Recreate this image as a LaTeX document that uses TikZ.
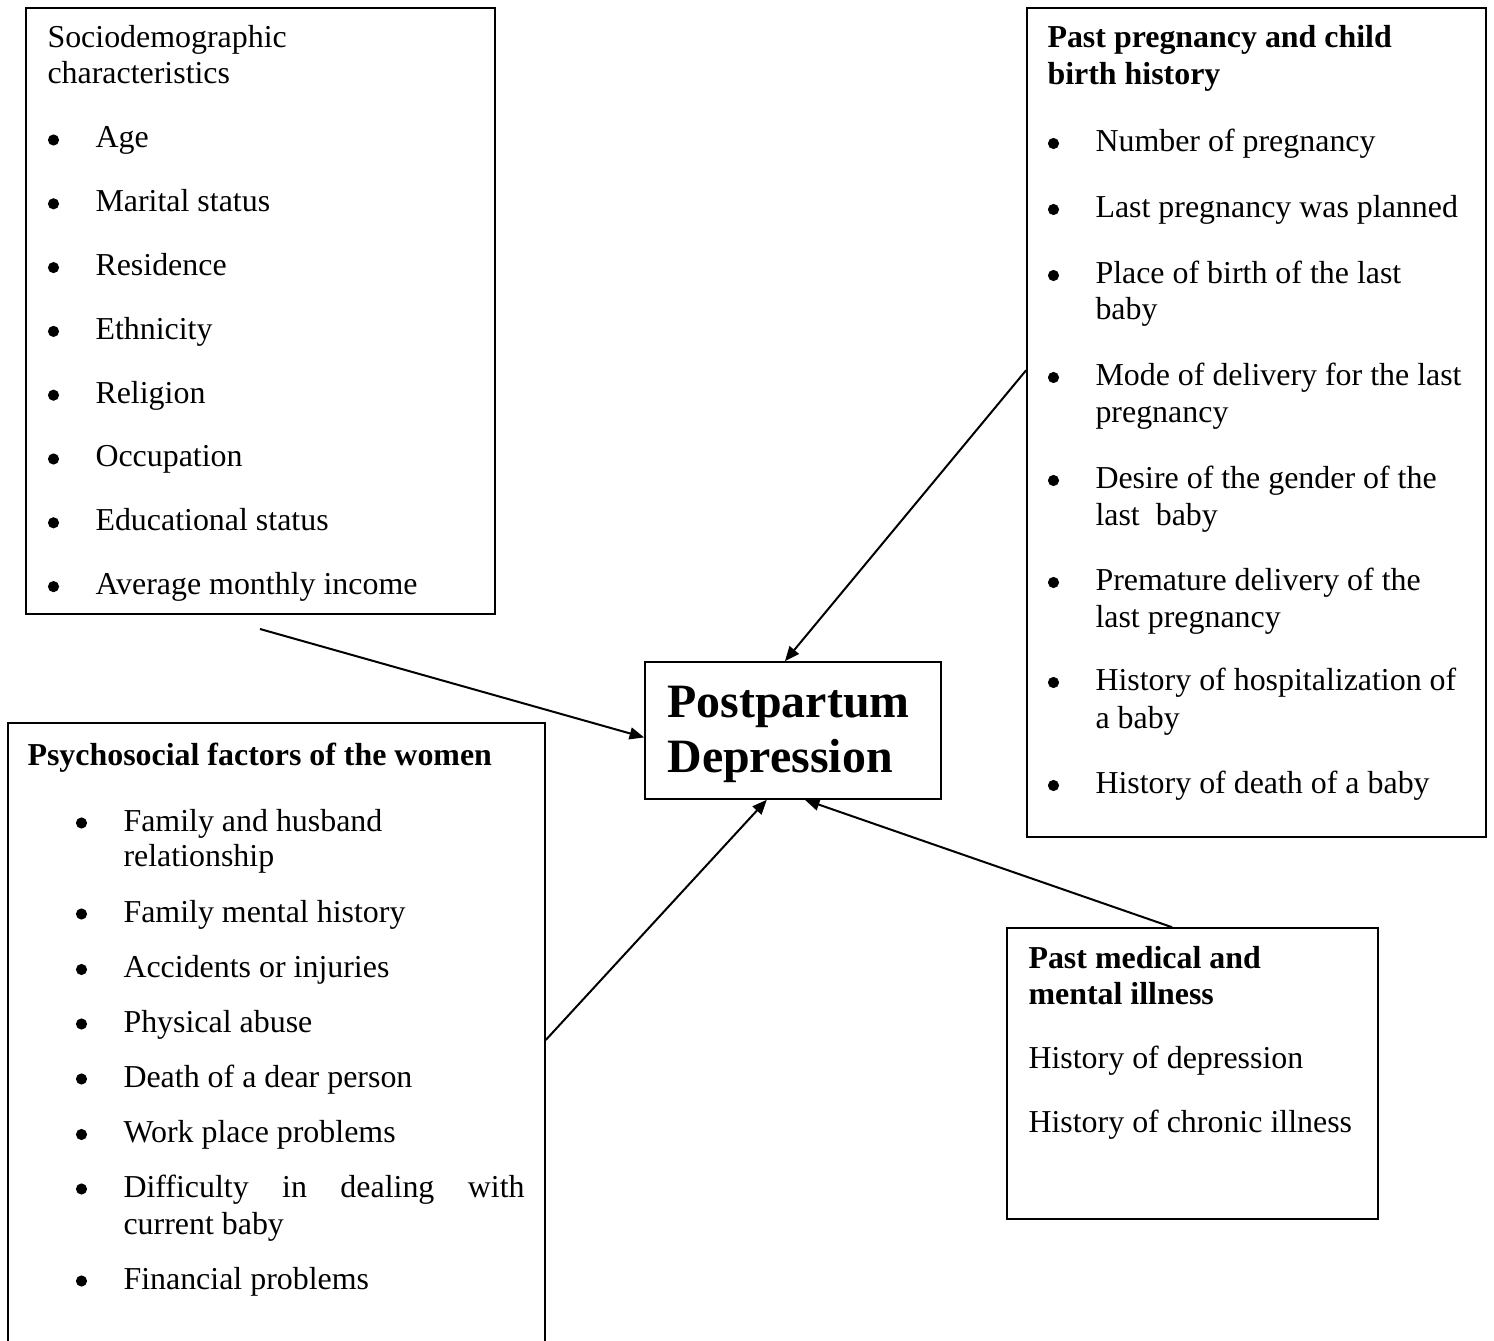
\documentclass[tikz,border=0pt]{standalone}
\usepackage{fontspec}
\setmainfont{Liberation Serif}
\usetikzlibrary{arrows.meta,calc,fit}
\begin{document}
\begin{tikzpicture}[x=0.376pt,y=-0.376pt,
  txt/.style={anchor=base west, inner sep=0pt, font=\fontsize{12}{14}\selectfont},
  ttl/.style={anchor=base west, inner sep=0pt, font=\fontsize{12}{14}\selectfont\bfseries},
  big/.style={anchor=base west, inner sep=0pt, font=\fontsize{18}{21}\selectfont\bfseries},
  bul/.style={circle, fill=black, inner sep=0pt, minimum size=4.2pt},
  box/.style={draw, line width=0.6pt, inner sep=0pt},
  arr/.style={line width=0.75pt, -{Triangle[length=5.5pt,width=4.5pt]}}]
\useasboundingbox (0,0) rectangle (1494,1341);
\clip (0,0) rectangle (1494,1341);
% boxes
\coordinate (soTL) at (26,8);    \coordinate (soBR) at (495,614);
\coordinate (prTL) at (1027,8);  \coordinate (prBR) at (1486,837);
\coordinate (psTL) at (8,723);   \coordinate (psBR) at (545,1360);
\coordinate (meTL) at (1007,928);\coordinate (meBR) at (1378,1219);
\coordinate (ppTL) at (645,662); \coordinate (ppBR) at (941,799);
\node[box, fit=(soTL)(soBR)] (socio) {};
\node[box, fit=(prTL)(prBR)] (preg) {};
\node[box, fit=(psTL)(psBR)] (psy) {};
\node[box, fit=(meTL)(meBR)] (med) {};
\node[box, fit=(ppTL)(ppBR)] (ppd) {};
% sociodemographic
\node[txt] (so0a) at (47,47.5) {Sociodemographic};
\node[txt] (so0b) at (47,84) {characteristics};
\foreach \t [count=\i] in {Age,Marital status,Residence,Ethnicity,Religion,Occupation,Educational status,Average monthly income}{
  \node[txt] (so\i) at (95,{148+63.8*(\i-1)}) {\t};
  \node[bul] (sob\i) at (53.5,{148+63.8*(\i-1)-8}) {};
}
% past pregnancy
\node[ttl] (pr0a) at (1047,48) {Past pregnancy and child};
\node[ttl] (pr0b) at (1047,84.5) {birth history};
\foreach \y/\t [count=\i] in {151.5/Number of pregnancy,217.5/Last pregnancy was planned,283.5/Place of birth of the last,385.5/Mode of delivery for the last,488.5/Desire of the gender of the,590.5/Premature delivery of the,690.5/History of hospitalization of,793.5/History of death of a baby}{
  \node[txt] (pr\i) at (1095,\y) {\t};
  \node[bul] (prb\i) at (1053.5,\y-8) {};
}
\node[txt] (pr3b) at (1095,319.5) {baby};
\node[txt] (pr4b) at (1095,422.5) {pregnancy};
\node[txt] (pr5b) at (1095,525.5) {last\ \ baby};
\node[txt] (pr6b) at (1095,627.5) {last pregnancy};
\node[txt] (pr7b) at (1095,728.5) {a baby};
% psychosocial
\node[ttl] (ps0) at (27,766) {Psychosocial factors of the women};
\foreach \y/\t [count=\i] in {831/Family and husband,922/Family mental history,977.5/Accidents or injuries,1032/Physical abuse,1087/Death of a dear person,1142.5/Work place problems,1197/{\hbox to 150.8pt{Difficulty\hfil in\hfil dealing\hfil with}},1289/Financial problems}{
  \node[txt] (ps\i) at (123,\y) {\t};
  \node[bul] (psb\i) at (81.5,\y-8) {};
}
\node[txt] (ps1b) at (123,867) {relationship};
\node[txt] (ps7b) at (123,1234) {current baby};
% past medical
\node[ttl] (me0a) at (1028,968.5) {Past medical and};
\node[ttl] (me0b) at (1028,1005) {mental illness};
\node[txt] (me1) at (1028,1068.5) {History of depression};
\node[txt] (me2) at (1028,1132.5) {History of chronic illness};
% centre
\node[big] (pp1) at (667,718) {Postpartum};
\node[big] (pp2) at (667,773) {Depression};
% arrows
\coordinate (a1s) at (260,629);
\draw[arr] (a1s) -- ($(ppd.north west)!0.55!(ppd.south west)$);
\draw[arr] ($(preg.north west)!0.437!(preg.south west)$) -- ($(ppd.north west)!0.473!(ppd.north east)$);
\draw[arr] ($(psy.north east)!0.4976!(psy.south east)$) -- ($(ppd.south west)!0.412!(ppd.south east)$);
\draw[arr] ($(med.north west)!0.445!(med.north east)$) -- ($(ppd.south west)!0.54!(ppd.south east)$);
\end{tikzpicture}
\end{document}
